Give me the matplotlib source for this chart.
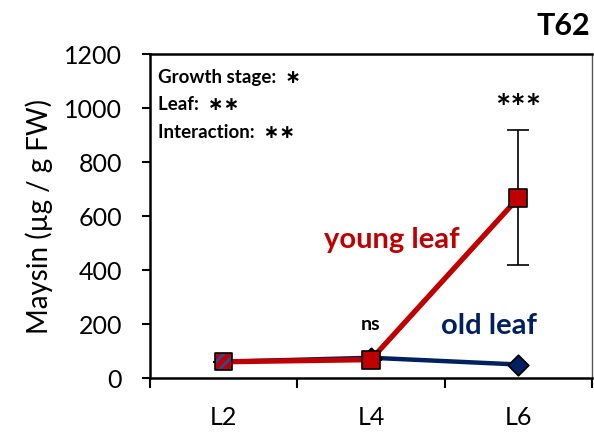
import matplotlib
matplotlib.use("Agg")
import matplotlib.pyplot as plt

categories = ["L2", "L4", "L6"]
young_leaf = [60, 68, 667]
young_err = [0, 0, 250]
old_leaf = [60, 75, 50]
old_err = [0, 0, 0]
yticks = [0, 200, 400, 600, 800, 1000, 1200]
stats_lines = ["Growth stage:  \u2217", "Leaf:  \u2217\u2217", "Interaction:  \u2217\u2217"]
sig_labels = ["", "ns", "***"]

RED = "#C00000"
NAVY = "#2A4A9A"
DARKNAVY = "#002060"
FONT = ["Lato", "DejaVu Sans"]
plt.rcParams['font.family'] = FONT
plt.rcParams['hatch.linewidth'] = 2.0

fig = plt.figure(figsize=(5.94, 4.32), dpi=100)
ax = fig.add_axes([0.2525, 0.125, 0.744, 0.75])

x = list(range(len(categories)))

ax.plot(x, old_leaf, color=DARKNAVY, lw=3.2, zorder=2)
ax.scatter(x[1:], old_leaf[1:], marker='D', s=110, facecolor=DARKNAVY, edgecolor='black', linewidths=1.2, zorder=3)
ax.errorbar(x, young_leaf, yerr=young_err, fmt='none', ecolor='black', elinewidth=1.2, capsize=8, capthick=1.2, zorder=3)
ax.plot(x, young_leaf, color=RED, lw=3.8, zorder=4)
ax.scatter(x[1:], young_leaf[1:], marker='s', s=150, facecolor=RED, edgecolor='black', linewidths=1.2, zorder=5)
# hatched (shared) first point
ax.scatter(x[:1], young_leaf[:1], marker='s', s=150, facecolor=RED, edgecolor=NAVY, hatch='///', linewidths=0, zorder=5)
ax.scatter(x[:1], young_leaf[:1], marker='s', s=150, facecolor='none', edgecolor='black', linewidths=1.2, zorder=6)

ax.set_xlim(-0.5, 2.5)
ax.set_ylim(0, 1200)
ax.set_yticks(yticks)
ax.set_yticklabels([str(v) for v in yticks])
ax.set_xticks([-0.5, 0.5, 1.5, 2.5])
ax.set_xticklabels([])
ax.set_xticks(x, minor=True)
ax.set_xticklabels(categories, minor=True)
ax.tick_params(axis='x', which='minor', length=0, labelsize=18, pad=20)
ax.tick_params(axis='x', which='major', length=7, width=1.5, direction='out')
ax.tick_params(axis='y', length=6, width=1.5, direction='out', labelsize=18, pad=14)
for s in ax.spines.values():
    s.set_linewidth(1.8)
ax.spines['right'].set_linewidth(1.0)
ax.spines['right'].set_color('#555555')
ax.set_ylabel("Maysin (\u00b5g / g FW)", fontsize=20, labelpad=8)

for i, line in enumerate(stats_lines):
    ax.text(0.018, 0.955 - i * 0.085, line, transform=ax.transAxes, fontsize=13.5, fontweight='bold',
            ha='left', va='top')

for xi, lab, yv, e in zip(x, sig_labels, young_leaf, young_err):
    if not lab:
        continue
    if lab == "ns":
        ax.text(xi, yv + 100, lab, ha='center', va='bottom', fontsize=14, fontweight='bold')
    else:
        ax.text(xi, yv + e + 15, lab, ha='center', va='bottom', fontsize=26, fontweight='bold')

ax.text(1.14, 511, "young leaf", color=RED, fontsize=21, fontweight='bold', ha='center', va='center')
ax.text(1.80, 193, "old leaf", color=DARKNAVY, fontsize=21, fontweight='bold', ha='center', va='center')

fig.text(0.993, 0.94, "T62", fontsize=22, fontweight='bold', ha='right', va='center')

fig.savefig("out.png", dpi=100)
